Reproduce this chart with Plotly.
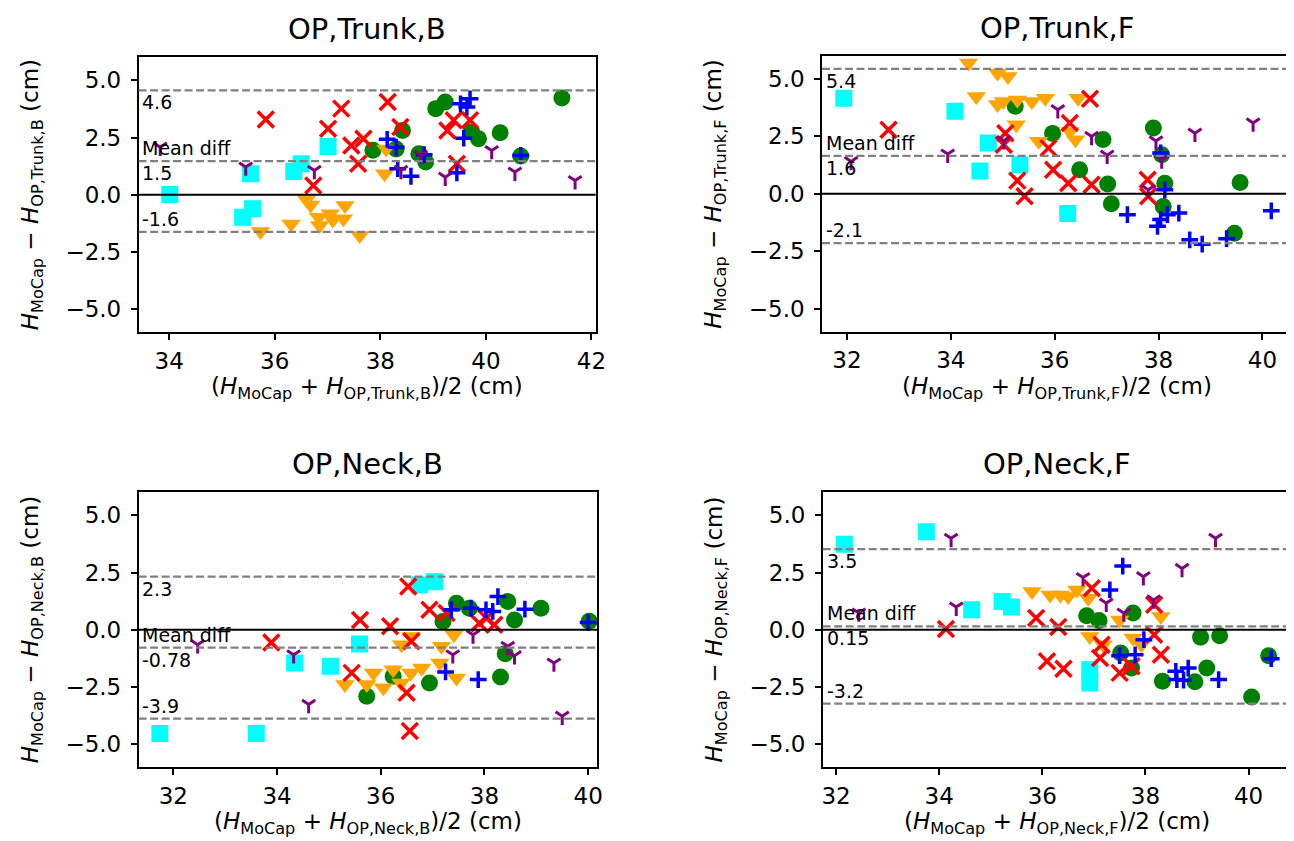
import plotly.graph_objects as go

W, H = 1294, 841
FONT = "DejaVu Sans"

# ---------------- data ----------------
PANELS = ["OP,Trunk,B", "OP,Trunk,F", "OP,Neck,B", "OP,Neck,F"]

MEAN_DIFF = [1.47, 1.64, -0.78, 0.15]
LOA_UPPER = [4.56, 5.42, 2.32, 3.52]
LOA_LOWER = [-1.62, -2.14, -3.88, -3.22]

X_TICKS_TB = [34, 36, 38, 40, 42]
X_TICKS_OTHER = [32, 34, 36, 38, 40]
Y_TICKS = [-5.0, -2.5, 0.0, 2.5, 5.0]

# OP,Trunk,B
TB_GREEN_X = [37.86, 38.42, 38.30, 38.73, 38.86, 39.05, 39.23, 39.73, 39.86, 40.27, 40.66, 41.44]
TB_GREEN_Y = [1.94, 2.81, 2.00, 1.79, 1.43, 3.76, 4.05, 2.74, 2.45, 2.71, 1.69, 4.22]
TB_ORANGE_X = [35.73, 36.31, 36.60, 36.68, 36.83, 36.85, 37.05, 37.10, 37.33, 37.30, 37.61, 38.11, 38.08]
TB_ORANGE_Y = [-1.60, -1.27, -0.20, -0.45, -0.98, -1.34, -0.83, -1.10, -0.47, -1.05, -1.78, 2.00, 0.92]
TB_CYAN_X = [34.01, 35.54, 35.58, 35.39, 36.36, 36.50, 37.01]
TB_CYAN_Y = [0.01, 0.92, -0.61, -0.98, 1.02, 1.35, 2.11]
TB_RED_X = [35.83, 37.01, 37.26, 36.73, 37.45, 37.68, 37.58, 38.14, 38.38, 39.27, 39.39, 39.70, 39.45]
TB_RED_Y = [3.29, 2.88, 3.76, 0.41, 2.15, 2.45, 1.35, 4.05, 2.96, 2.81, 3.25, 3.25, 1.35]
TB_BLUE_X = [39.52, 39.70, 39.64, 39.58, 38.13, 38.30, 38.33, 38.58, 38.83, 39.45, 40.66]
TB_BLUE_Y = [3.97, 4.19, 3.83, 2.47, 2.42, 2.08, 1.14, 0.81, 1.75, 0.96, 1.72]
TB_PURPLE_X = [33.83, 35.45, 36.75, 38.39, 38.77, 39.23, 40.11, 40.55, 41.69]
TB_PURPLE_Y = [2.08, 1.21, 1.06, 1.06, 1.72, 0.77, 1.93, 0.99, 0.62]

# OP,Trunk,F
TF_GREEN_X = [35.24, 35.96, 36.93, 36.48, 37.02, 37.09, 37.90, 38.06, 38.12, 38.09, 39.46, 39.57]
TF_GREEN_Y = [3.80, 2.62, 2.35, 1.04, 0.42, -0.43, 2.85, 1.69, 0.46, -0.55, -1.71, 0.49]
TF_ORANGE_X = [34.34, 34.90, 35.10, 34.49, 34.90, 35.01, 35.28, 35.56, 35.82, 36.45, 35.26, 35.69, 36.29, 36.40]
TF_ORANGE_Y = [5.67, 5.24, 5.09, 4.22, 3.87, 4.00, 4.07, 4.00, 4.15, 4.15, 2.99, 2.28, 2.70, 2.34]
TF_CYAN_X = [31.94, 34.08, 34.72, 34.56, 35.33, 36.25]
TF_CYAN_Y = [4.15, 3.58, 2.20, 0.99, 1.26, -0.86]
TF_RED_X = [32.80, 35.05, 35.02, 35.28, 35.42, 35.88, 35.97, 36.68, 36.29, 36.26, 36.71, 37.79, 37.80]
TF_RED_Y = [2.78, 2.63, 2.13, 0.57, -0.11, 1.98, 1.04, 4.12, 3.07, 0.46, 0.39, 0.61, -0.11]
TF_BLUE_X = [38.04, 38.12, 37.40, 37.98, 38.04, 38.17, 38.39, 38.60, 38.84, 39.31, 40.17]
TF_BLUE_Y = [1.77, 0.17, -0.91, -1.41, -1.12, -0.91, -0.84, -2.00, -2.19, -1.95, -0.74]
TF_PURPLE_X = [32.08, 33.94, 36.06, 36.71, 37.01, 37.95, 38.06, 37.80, 38.70, 39.82, 35.02]
TF_PURPLE_Y = [1.40, 1.72, 3.65, 2.49, 1.67, 2.29, 1.47, 0.17, 2.63, 3.07, 2.30]

# OP,Neck,B
NB_GREEN_X = [35.73, 36.24, 36.94, 37.20, 37.46, 37.71, 38.45, 38.58, 38.40, 38.31, 39.09, 40.02]
NB_GREEN_Y = [-2.90, -2.03, -2.32, 0.36, 1.16, 0.94, 1.23, 0.43, -1.04, -2.06, 0.94, 0.37]
NB_ORANGE_X = [35.31, 35.73, 35.86, 36.05, 36.24, 36.39, 36.40, 36.59, 36.58, 36.79, 37.14, 37.17, 37.41, 37.46]
NB_ORANGE_Y = [-2.39, -2.39, -1.88, -2.53, -1.74, -2.32, -0.65, -0.29, -1.88, -1.67, -1.45, -0.72, -0.22, -2.10]
NB_CYAN_X = [31.74, 33.60, 34.34, 35.03, 35.59, 36.75, 37.04]
NB_CYAN_Y = [-4.52, -4.52, -1.45, -1.59, -0.62, 1.96, 2.10]
NB_RED_X = [33.89, 35.44, 35.60, 36.53, 36.18, 36.59, 36.50, 36.56, 36.94, 37.27, 37.90, 38.04, 38.19]
NB_RED_Y = [-0.55, -1.88, 0.43, 1.89, 0.15, -0.50, -2.75, -4.42, 0.87, 0.73, 0.29, 0.50, 0.22]
NB_BLUE_X = [37.36, 37.74, 38.03, 38.16, 38.26, 38.78, 37.25, 37.88, 40.00]
NB_BLUE_Y = [0.87, 0.94, 0.87, 0.80, 1.45, 0.90, -1.84, -2.17, 0.32]
NB_PURPLE_X = [32.47, 34.32, 34.61, 37.39, 37.78, 38.45, 38.58, 39.34, 39.50]
NB_PURPLE_Y = [-0.65, -1.09, -3.26, -1.09, -0.22, -0.72, -1.13, -1.45, -3.77]

# OP,Neck,F
NF_GREEN_X = [36.86, 37.10, 37.76, 37.52, 37.73, 38.33, 39.07, 39.44, 39.19, 38.96, 40.39, 40.06]
NF_GREEN_Y = [0.61, 0.41, 0.73, -1.01, -1.67, -2.24, -0.32, -0.26, -1.67, -2.27, -1.13, -2.93]
NF_ORANGE_X = [35.80, 36.15, 36.35, 36.50, 36.67, 36.89, 36.92, 37.18, 37.50, 37.76, 37.92, 38.30]
NF_ORANGE_Y = [1.67, 1.52, 1.52, 1.45, 1.74, 1.38, -0.29, -0.65, 0.43, -0.36, -0.65, 0.58]
NF_CYAN_X = [32.16, 33.75, 34.63, 35.22, 35.40, 36.92, 36.92]
NF_CYAN_Y = [3.73, 4.28, 0.87, 1.23, 0.99, -1.74, -2.32]
NF_RED_X = [34.13, 35.88, 36.09, 36.31, 36.41, 36.96, 37.15, 37.12, 37.50, 37.73, 38.17, 38.17, 38.30]
NF_RED_Y = [0.03, 0.51, -1.37, 0.12, -1.70, 1.81, -0.65, -1.23, -1.88, -1.59, 1.09, -0.22, -1.09]
NF_BLUE_X = [37.56, 37.31, 37.97, 37.50, 37.80, 38.59, 38.83, 38.61, 38.74, 39.42, 40.44]
NF_BLUE_Y = [2.78, 1.74, -0.43, -1.13, -1.09, -1.81, -1.67, -2.17, -2.20, -2.17, -1.26]
NF_PURPLE_X = [32.44, 34.23, 34.33, 36.79, 37.24, 37.58, 37.96, 38.16, 38.71, 39.36]
NF_PURPLE_Y = [0.73, 3.99, 0.99, 2.28, 1.16, 0.73, 2.32, 1.30, 2.68, 3.99]

GROUPS = ["green", "orange", "cyan", "red", "blue", "purple"]
PANEL_DATA = [
    {"green": (TB_GREEN_X, TB_GREEN_Y), "orange": (TB_ORANGE_X, TB_ORANGE_Y), "cyan": (TB_CYAN_X, TB_CYAN_Y),
     "red": (TB_RED_X, TB_RED_Y), "blue": (TB_BLUE_X, TB_BLUE_Y), "purple": (TB_PURPLE_X, TB_PURPLE_Y)},
    {"green": (TF_GREEN_X, TF_GREEN_Y), "orange": (TF_ORANGE_X, TF_ORANGE_Y), "cyan": (TF_CYAN_X, TF_CYAN_Y),
     "red": (TF_RED_X, TF_RED_Y), "blue": (TF_BLUE_X, TF_BLUE_Y), "purple": (TF_PURPLE_X, TF_PURPLE_Y)},
    {"green": (NB_GREEN_X, NB_GREEN_Y), "orange": (NB_ORANGE_X, NB_ORANGE_Y), "cyan": (NB_CYAN_X, NB_CYAN_Y),
     "red": (NB_RED_X, NB_RED_Y), "blue": (NB_BLUE_X, NB_BLUE_Y), "purple": (NB_PURPLE_X, NB_PURPLE_Y)},
    {"green": (NF_GREEN_X, NF_GREEN_Y), "orange": (NF_ORANGE_X, NF_ORANGE_Y), "cyan": (NF_CYAN_X, NF_CYAN_Y),
     "red": (NF_RED_X, NF_RED_Y), "blue": (NF_BLUE_X, NF_BLUE_Y), "purple": (NF_PURPLE_X, NF_PURPLE_Y)},
]

# ---------------- layout / style ----------------
# axes boxes in pixels: (left, right, top, bottom)
BOXES = [(130.7, 591.7, 49.3, 324.3), (820.0, 1293.0, 47.5, 324.0),
         (130.7, 593.0, 484.3, 759.3), (820.7, 1293.3, 484.3, 759.3)]
X_RANGES = [(33.42, 42.08), (31.52, 40.55), (31.33, 40.17), (31.74, 40.83)]
Y_RANGE = (-6, 6)

MARKERS = {
    "green": dict(symbol="circle", size=17, color="green", line=dict(width=0)),
    "orange": dict(symbol="triangle-down", size=17, color="orange", line=dict(width=0)),
    "cyan": dict(symbol="square", size=17, color="cyan", line=dict(width=0)),
    "red": dict(symbol="x-thin", size=16, color="red", line=dict(color="red", width=3.5)),
    "blue": dict(symbol="cross-thin", size=12, color="blue", line=dict(color="blue", width=3.5)),
    "purple": dict(symbol="y-down", size=11, color="purple", line=dict(color="purple", width=3)),
}


def px2fx(px):
    return px / W


def py2fy(py):
    return 1 - py / H


fig = go.Figure()
shapes = []
annotations = []

for i, name in enumerate(PANELS):
    sfx = "" if i == 0 else str(i + 1)
    xa, ya = "x" + sfx, "y" + sfx
    left, right, top, bottom = BOXES[i]

    for g in GROUPS:
        xs, ys = PANEL_DATA[i][g]
        fig.add_trace(go.Scatter(x=xs, y=ys, mode="markers", marker=MARKERS[g],
                                 xaxis=xa, yaxis=ya, showlegend=False, hoverinfo="skip"))

    axis_common = dict(showline=True, mirror=True, linecolor="black", linewidth=1.5,
                       ticks="outside", ticklen=6, tickwidth=1.5, tickcolor="black",
                       showgrid=False, zeroline=False,
                       tickfont=dict(family=FONT, size=23, color="black"))
    fig.layout["xaxis" + sfx] = dict(
        domain=[px2fx(left), px2fx(right)], range=list(X_RANGES[i]), anchor=ya,
        tickvals=X_TICKS_TB if i == 0 else X_TICKS_OTHER, ticklabelstandoff=1, **axis_common)
    fig.layout["yaxis" + sfx] = dict(
        domain=[py2fy(bottom), py2fy(top)], range=list(Y_RANGE), anchor=xa,
        tickvals=Y_TICKS, tickformat=".1f", ticklabelstandoff=5, **axis_common)

    # zero line, mean and limits of agreement
    shapes.append(dict(type="line", xref=xa + " domain", yref=ya, x0=0, x1=1, y0=0, y1=0,
                       line=dict(color="black", width=2), layer="above"))
    for v in (LOA_UPPER[i], MEAN_DIFF[i], LOA_LOWER[i]):
        shapes.append(dict(type="line", xref=xa + " domain", yref=ya, x0=0, x1=1, y0=v, y1=v,
                           line=dict(color="gray", width=2.3, dash="8px,3.5px"), layer="above"))

    lab_font = dict(family=FONT, size=19, color="black")
    common = dict(xref=xa + " domain", yref=ya, x=0.004, xanchor="left", yanchor="middle",
                  showarrow=False, font=lab_font)
    annotations.append(dict(text=f"{LOA_UPPER[i]:.2g}", y=LOA_UPPER[i], yshift=-12, **common))
    annotations.append(dict(text="Mean diff", y=MEAN_DIFF[i], yshift=13, **common))
    annotations.append(dict(text=f"{MEAN_DIFF[i]:.2g}", y=MEAN_DIFF[i], yshift=-12, **common))
    annotations.append(dict(text=f"{LOA_LOWER[i]:.2g}", y=LOA_LOWER[i], yshift=13, **common))

    # title
    annotations.append(dict(text=name, xref="paper", yref="paper",
                            x=px2fx((left + right) / 2), y=py2fy(top - 28),
                            xanchor="center", yanchor="middle", showarrow=False,
                            font=dict(family=FONT, size=29, color="black")))
    # axis titles
    annotations.append(dict(
        text=f"(<i>H</i><sub>MoCap</sub> + <i>H</i><sub>{name}</sub>)/2 (cm)",
        xref="paper", yref="paper", x=px2fx((left + right) / 2), y=py2fy(bottom + 56),
        xanchor="center", yanchor="middle", showarrow=False,
        font=dict(family=FONT, size=23, color="black")))
    annotations.append(dict(
        text=f"<i>H</i><sub>MoCap</sub> \u2212 <i>H</i><sub>{name}</sub> (cm)",
        xref="paper", yref="paper", x=px2fx(left - 108), y=py2fy((top + bottom) / 2),
        xanchor="center", yanchor="middle", textangle=-90, showarrow=False,
        font=dict(family=FONT, size=23, color="black")))

fig.update_layout(width=W, height=H, margin=dict(l=0, r=0, t=0, b=0),
                  paper_bgcolor="white", plot_bgcolor="white",
                  shapes=shapes, annotations=annotations, showlegend=False,
                  font=dict(family=FONT, color="black"))

fig.write_html("out.html")
